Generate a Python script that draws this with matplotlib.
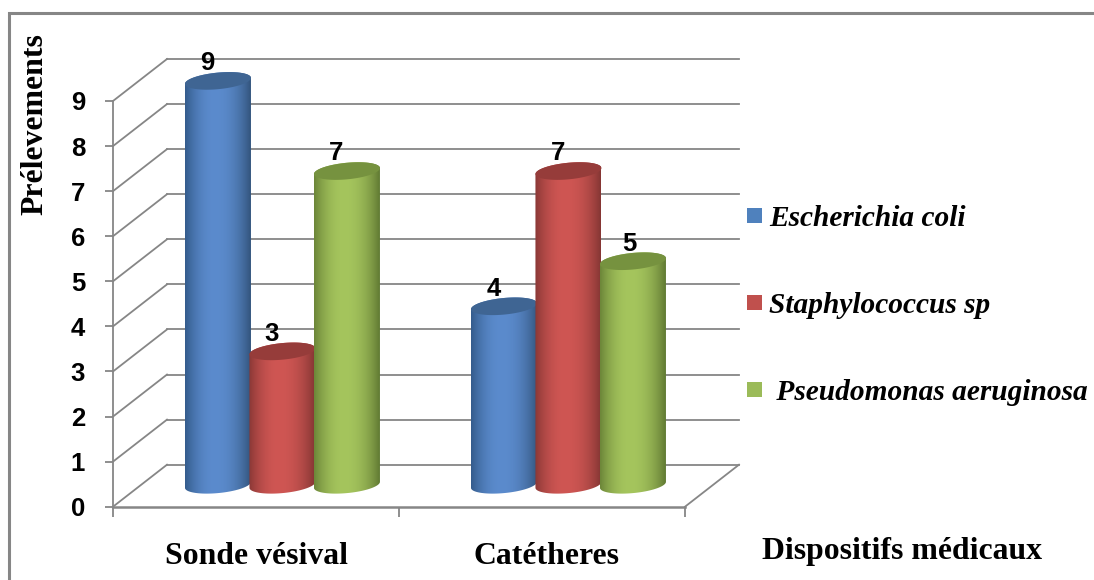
import numpy as np
import matplotlib
matplotlib.use('Agg')
import matplotlib.pyplot as plt
from matplotlib.colors import LinearSegmentedColormap
from matplotlib.patches import Patch, Polygon, Rectangle

categories = ['Sonde vésival', 'Catétheres']
series_names = ['Escherichia coli', 'Staphylococcus sp', ' Pseudomonas aeruginosa']
escherichia = [9, 4]
staphylococcus = [3, 7]
pseudomonas = [7, 5]
yticks = [0, 1, 2, 3, 4, 5, 6, 7, 8, 9]

# edge, middle, edge and top face for each cylinder colour
shades = [
    ('#345c8c', '#5b8bcd', '#33557d', '#3f6593'),
    ('#8a3836', '#cf5653', '#853634', '#963c3a'),
    ('#6c8639', '#a5c55d', '#617a33', '#76923f'),
]
legend_colors = ['#4f81bd', '#c0504d', '#9bbb59']
grid_color = '#868686'

W, H = 1094, 580
fig = plt.figure(figsize=(W / 100, H / 100), dpi=100)
ax = fig.add_axes([113 / W, (H - 506.7) / H, 572 / W, 405.7 / H])
ax.set_xlim(0, 2)
ax.set_ylim(0, 9)

# size of the 3d depth, in data units
depth_x = 54 / 286
depth_y = 42 / 45.07
bar_w = 66 / 286
start = 0.367
step = 0.2255


def cylinder(cx, value, colors, z):
    grad = LinearSegmentedColormap.from_list('c', [colors[0], colors[1], colors[2]])
    u = np.linspace(0, 1, 128)
    u = np.where(u < 0.45, 0.5 * (1 - (1 - u / 0.45) ** 2), 0.5 + 0.5 * ((u - 0.45) / 0.55) ** 2.2)
    half = bar_w / 2
    tilt = 3 / 45.07
    b = 8.3 / 45.07
    y0 = depth_y / 2 + 0.02
    y1 = value + depth_y / 2 - 0.02
    t = np.linspace(0, np.pi, 60)
    # front of the base left to right, then back of the top right to left
    low = np.column_stack([cx - half * np.cos(t), y0 - b * np.sin(t) - tilt * np.cos(t)])
    up = np.column_stack([cx + half * np.cos(t), y1 + b * np.sin(t) + tilt * np.cos(t)])
    body = Polygon(np.vstack([low, up]), closed=True, transform=ax.transData, facecolor='none', edgecolor='none')
    ax.add_patch(body)
    im = ax.imshow(u[None, :], cmap=grad, vmin=0, vmax=1, aspect='auto', zorder=z,
                   extent=(cx - half, cx + half, y0 - 1, y1 + 1), interpolation='bilinear')
    im.set_clip_box(fig.bbox)
    im.set_clip_path(body)
    t2 = np.linspace(0, 2 * np.pi, 90)
    top = np.column_stack([cx + half * np.cos(t2), y1 + b * np.sin(t2) + tilt * np.cos(t2)])
    ax.add_patch(Polygon(top, closed=True, facecolor=colors[3], edgecolor='none', zorder=z + 0.1, clip_on=False))
    return y1


# back wall gridlines and the diagonals running to the front axis
for v in yticks:
    ax.plot([depth_x, 2 + depth_x], [v + depth_y, v + depth_y], color=grid_color, lw=1.3, clip_on=False, zorder=1)
    ax.plot([0, depth_x], [v, v + depth_y], color=grid_color, lw=1.3, clip_on=False, zorder=1)
ax.plot([2, 2 + depth_x], [0, depth_y], color=grid_color, lw=1.3, clip_on=False, zorder=1)

nudges = [[0, 0], [0, 0], [0, 0.026]]
for j, vals in enumerate([escherichia, staphylococcus, pseudomonas]):
    for i, v in enumerate(vals):
        cx = i + start + j * step
        y1 = cylinder(cx, v, shades[j], 3 + j)
        ax.text(cx - 0.037 + nudges[j][i], y1 + 0.39, str(v), ha='center', va='center', zorder=8,
                fontsize=18.5, fontweight='bold', family='Liberation Sans', color='black')

ax.set_xlim(0, 2)
ax.set_ylim(0, 9)
ax.patch.set_visible(False)

for s in ['top', 'right']:
    ax.spines[s].set_visible(False)
for s in ['left', 'bottom']:
    ax.spines[s].set_color(grid_color)
ax.spines['left'].set_linewidth(1.3)
ax.spines['bottom'].set_linewidth(1.8)

ax.set_yticks(yticks)
ax.tick_params(axis='y', length=6, width=1.3, color=grid_color, pad=14)
ax.set_xticks([0, 1, 2])
ax.set_xticklabels([])
ax.tick_params(axis='x', length=7, width=1.3, color=grid_color)
ax.set_xticks([0.5, 1.516], minor=True)
ax.set_xticklabels(categories, minor=True, fontsize=22.9, fontweight='bold', family='Liberation Serif')
ax.tick_params(axis='x', which='minor', length=0, pad=25.5)
for lab in ax.get_yticklabels():
    lab.set_fontsize(18.5)
    lab.set_fontweight('bold')
    lab.set_family('Liberation Sans')
    lab.set_verticalalignment('center_baseline')

fig.text(35 / W, 1 - 124.5 / H, 'Prélevements', rotation=90, ha='center', va='center',
         fontsize=22.9, fontweight='bold', family='Liberation Serif')
fig.text(902 / W, 1 - 552 / H, 'Dispositifs médicaux', ha='center', va='center',
         fontsize=22.9, fontweight='bold', family='Liberation Serif')

handles = [Patch(facecolor=c, edgecolor='none') for c in legend_colors]
ax.legend(handles, series_names, loc='center left', bbox_to_anchor=(747 / W, 1 - 305.5 / H),
          bbox_transform=fig.transFigure, frameon=False, handlelength=0.51, handleheight=0.4,
          handletextpad=0.24, labelspacing=2.03, borderpad=0, borderaxespad=0,
          prop={'family': 'Liberation Serif', 'weight': 'bold', 'style': 'italic', 'size': 21.2})

# outer chart frame, open past the right and bottom edges
fig.add_artist(Rectangle((9 / W, -5 / H), (W + 10) / W, (H - 13 + 5) / H, transform=fig.transFigure,
                         facecolor='none', edgecolor=grid_color, lw=2.2))

fig.savefig('out.png', dpi=100, facecolor='white')
